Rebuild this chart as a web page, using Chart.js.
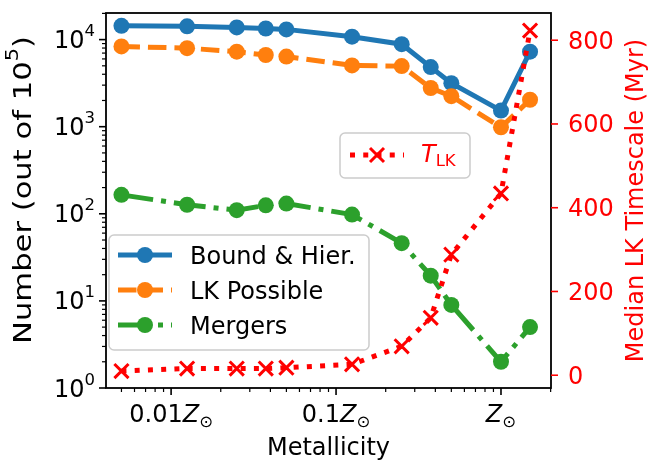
<!DOCTYPE html>
<html><head><meta charset="utf-8">
<script src="https://cdn.jsdelivr.net/npm/chart.js@4/dist/chart.umd.min.js"></script>
<style>html,body{margin:0;padding:0;background:#fff}canvas{display:block}</style>
</head><body>
<canvas id="c" width="649" height="468"></canvas>
<script>
// ---- data (metallicity in units of Z_sun) ----
const metallicity = [0.005, 0.0125, 0.025, 0.0375, 0.05, 0.125, 0.25, 0.375, 0.5, 1, 1.5];
const boundHier  = [14400, 14200, 13800, 13400, 13100, 10800, 8860, 4830, 3160, 1530, 7260];
const lkPossible = [8340, 7980, 7260, 6650, 6380, 5050, 4960, 2780, 2240, 985, 2040];
const mergers    = [165, 127, 110, 125, 131, 98, 46, 19.5, 9, 2, 5];
const tLK        = [10, 16, 16, 16, 18, 26, 69, 137, 288, 434, 823];
const xTickValues   = [0.01, 0.1, 1];
const xTickPrefixes = ['0.01', '0.1', ''];
const yLeftExponents = [0, 1, 2, 3, 4];
const yRightTicks    = [0, 200, 400, 600, 800];
const seriesNames = ['Bound & Hier.', 'LK Possible', 'Mergers'];

const FF = '"DejaVu Sans", sans-serif';
const FS = 24, SS = 16.5;
const BLUE = '#1f77b4', ORANGE = '#ff7f0e', GREEN = '#2ca02c', RED = '#ff0000';
const LW = 5;
const DASH_ORANGE = [18.5, 8], DASH_GREEN = [32, 8, 5, 8], DASH_RED = [5, 8.25];

const pts = ys => metallicity.map((x, i) => ({x, y: ys[i]}));

function drawParts(c, parts, x, y, align) {
  let total = 0;
  parts.forEach(p => { c.font = p.font; p.w = c.measureText(p.t).width; total += p.w; });
  let sx = align === 'center' ? x - total / 2 : align === 'right' ? x - total : x;
  c.textAlign = 'left'; c.textBaseline = 'alphabetic';
  parts.forEach(p => { c.font = p.font; c.fillText(p.t, sx, y + (p.dy || 0)); sx += p.w; });
}
function seg(c, x1, y1, x2, y2) { c.beginPath(); c.moveTo(x1, y1); c.lineTo(x2, y2); c.stroke(); }

const decor = {
  id: 'decor',
  afterDraw(chart) {
    const c = chart.ctx, a = chart.chartArea;
    const xs = chart.scales.x, ys = chart.scales.y, y2 = chart.scales.y2;
    c.save();
    // ---- legend 1 ----
    c.fillStyle = 'rgba(255,255,255,0.8)'; c.strokeStyle = '#cccccc'; c.lineWidth = 1.5;
    c.beginPath(); c.roundRect(109, 235, 260, 115, 5); c.fill(); c.stroke();
    const lc = [BLUE, ORANGE, GREEN], ld = [[], DASH_ORANGE, DASH_GREEN], ly = [255, 290, 325];
    for (let i = 0; i < 3; i++) {
      c.strokeStyle = lc[i]; c.lineWidth = LW; c.setLineDash(ld[i]);
      seg(c, 118, ly[i], 172, ly[i]);
      c.setLineDash([]);
      c.fillStyle = lc[i]; c.beginPath(); c.arc(145, ly[i], 8, 0, Math.PI * 2); c.fill();
      c.fillStyle = '#000'; c.font = FS + 'px ' + FF; c.textAlign = 'left'; c.textBaseline = 'alphabetic';
      c.fillText(seriesNames[i], 190, ly[i] + 8.5);
    }
    // ---- legend 2 ----
    c.fillStyle = 'rgba(255,255,255,0.8)'; c.strokeStyle = '#cccccc'; c.lineWidth = 1.5;
    c.beginPath(); c.roundRect(340, 133, 130, 45, 5); c.fill(); c.stroke();
    c.strokeStyle = RED; c.lineWidth = LW; c.setLineDash(DASH_RED);
    seg(c, 350, 155, 404, 155); c.setLineDash([]);
    c.lineWidth = 3; const r = 7;
    seg(c, 377 - r, 155 - r, 377 + r, 155 + r); seg(c, 377 - r, 155 + r, 377 + r, 155 - r);
    c.fillStyle = RED;
    drawParts(c, [{t: 'T', font: 'italic ' + FS + 'px ' + FF}, {t: 'LK', font: SS + 'px ' + FF, dy: 3.5}], 421, 162, 'left');

    // ---- frame ----
    c.strokeStyle = '#000'; c.lineWidth = 1.8;
    c.strokeRect(a.left, a.top, a.right - a.left, a.bottom - a.top);
    // ---- x ticks ----
    for (let d = -3; d <= 0; d++) for (let k = 1; k <= 9; k++) {
      const v = k * Math.pow(10, d);
      if (v < xs.min || v > xs.max) continue;
      const px = xs.getPixelForValue(v);
      c.lineWidth = k === 1 ? 1.6 : 1.2;
      seg(c, px, a.bottom, px, a.bottom + (k === 1 ? 7 : 4));
    }
    c.fillStyle = '#000';
    xTickValues.forEach((v, i) => {
      const px = xs.getPixelForValue(v);
      const parts = [];
      if (xTickPrefixes[i]) parts.push({t: xTickPrefixes[i], font: FS + 'px ' + FF});
      parts.push({t: 'Z', font: 'italic ' + FS + 'px ' + FF});
      parts.push({t: '\u2299', font: SS + 'px ' + FF, dy: 5});
      drawParts(c, parts, px, 422, 'center');
    });
    // ---- left y ticks ----
    for (let d = 0; d <= 4; d++) for (let k = 1; k <= 9; k++) {
      const v = k * Math.pow(10, d);
      if (v < ys.min || v > ys.max) continue;
      const py = ys.getPixelForValue(v);
      c.lineWidth = k === 1 ? 1.6 : 1.2;
      seg(c, a.left, py, a.left - (k === 1 ? 7 : 4), py);
    }
    yLeftExponents.forEach(e => {
      const py = ys.getPixelForValue(Math.pow(10, e));
      drawParts(c, [{t: '10', font: FS + 'px ' + FF}, {t: String(e), font: SS + 'px ' + FF, dy: -12}], 95, py + 8.5, 'right');
    });
    // ---- right y ticks ----
    c.strokeStyle = RED; c.fillStyle = RED;
    yRightTicks.forEach(v => {
      const py = y2.getPixelForValue(v);
      c.lineWidth = 1.6; seg(c, a.right, py, a.right + 7, py);
      c.font = FS + 'px ' + FF; c.textAlign = 'left'; c.textBaseline = 'alphabetic';
      c.fillText(String(v), 568, py + 8.5);
    });
    // ---- axis titles ----
    c.fillStyle = '#000';
    drawParts(c, [{t: 'Metallicity', font: FS + 'px ' + FF}], (a.left + a.right) / 2, 455, 'center');
    c.save(); c.translate(22, 190); c.rotate(-Math.PI / 2); c.scale(1.2, 1);
    drawParts(c, [{t: 'Number (out of 10', font: '25.5px ' + FF}, {t: '5', font: '17.5px ' + FF, dy: -13}, {t: ')', font: '25.5px ' + FF}], 0, 9.2, 'center');
    c.restore();
    c.save(); c.translate(634, (a.top + a.bottom) / 2); c.rotate(-Math.PI / 2);
    c.fillStyle = RED;
    drawParts(c, [{t: 'Median LK Timescale (Myr)', font: FS + 'px ' + FF}], 0, 8.5, 'center');
    c.restore();
    c.restore();
  }
};

new Chart(document.getElementById('c').getContext('2d'), {
  type: 'line',
  data: { datasets: [
    { label: 'T_LK', data: pts(tLK), yAxisID: 'y2', order: 0,
      borderColor: RED, backgroundColor: RED, borderWidth: LW, borderDash: DASH_RED,
      pointStyle: 'crossRot', pointRadius: 10, pointBorderWidth: 3, pointBorderColor: RED, pointBackgroundColor: RED },
    { label: seriesNames[2], data: pts(mergers), yAxisID: 'y', order: 1,
      borderColor: GREEN, backgroundColor: GREEN, borderWidth: LW, borderDash: DASH_GREEN,
      pointRadius: 8, pointBorderWidth: 0, pointBackgroundColor: GREEN },
    { label: seriesNames[1], data: pts(lkPossible), yAxisID: 'y', order: 2,
      borderColor: ORANGE, backgroundColor: ORANGE, borderWidth: LW, borderDash: DASH_ORANGE,
      pointRadius: 8, pointBorderWidth: 0, pointBackgroundColor: ORANGE },
    { label: seriesNames[0], data: pts(boundHier), yAxisID: 'y', order: 3,
      borderColor: BLUE, backgroundColor: BLUE, borderWidth: LW,
      pointRadius: 8, pointBorderWidth: 0, pointBackgroundColor: BLUE }
  ]},
  options: {
    responsive: false, animation: false, devicePixelRatio: 1,
    layout: { padding: { left: 106, right: 98, top: 6, bottom: 80 } },
    scales: {
      x:  { type: 'logarithmic', min: 0.00403, max: 2.01, display: false },
      y:  { type: 'logarithmic', min: 1, max: 20200, display: false },
      y2: { type: 'linear', position: 'right', min: -30.5, max: 865, display: false }
    },
    plugins: { legend: { display: false }, tooltip: { enabled: false } },
    elements: { line: { tension: 0, fill: false } }
  },
  plugins: [decor]
});
</script>
</body></html>
